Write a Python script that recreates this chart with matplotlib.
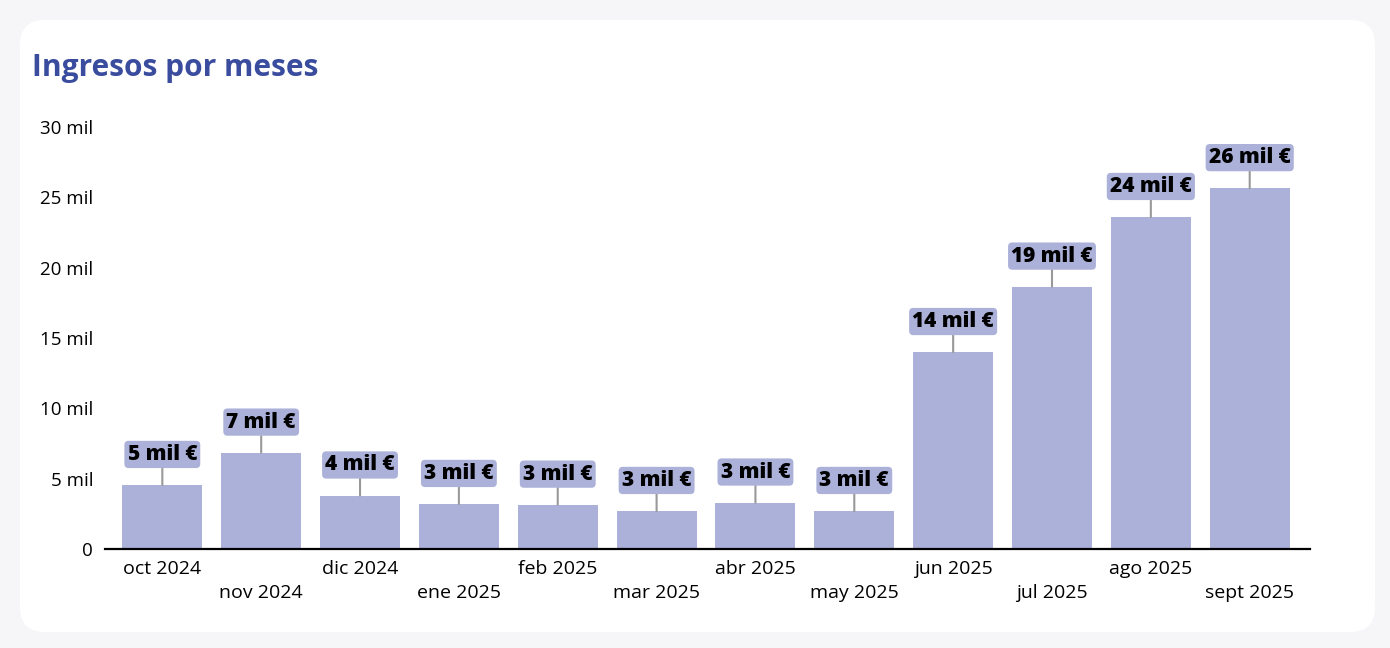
import matplotlib.pyplot as plt
from matplotlib.patches import FancyBboxPatch
from matplotlib.transforms import offset_copy

# datos
meses = ['oct 2024', 'nov 2024', 'dic 2024', 'ene 2025', 'feb 2025', 'mar 2025',
         'abr 2025', 'may 2025', 'jun 2025', 'jul 2025', 'ago 2025', 'sept 2025']
ingresos = [4.55, 6.85, 3.8, 3.2, 3.15, 2.7, 3.3, 2.7, 14.0, 18.65, 23.6, 25.65]  # miles de €
etiquetas = ['5 mil €', '7 mil €', '4 mil €', '3 mil €', '3 mil €', '3 mil €',
             '3 mil €', '3 mil €', '14 mil €', '19 mil €', '24 mil €', '26 mil €']
yticks = [0, 5, 10, 15, 20, 25, 30]
ylabels = ['0', '5 mil', '10 mil', '15 mil', '20 mil', '25 mil', '30 mil']

plt.rcParams['font.family'] = ['Open Sans', 'DejaVu Sans']

W, H = 1390, 648
fig = plt.figure(figsize=(W / 100, H / 100), dpi=100, facecolor='#f6f6f9')

# tarjeta blanca
card = FancyBboxPatch((20 / W, 16 / H), 1355 / W, 612 / H,
                      boxstyle='round,pad=0,rounding_size=0.018',
                      transform=fig.transFigure, facecolor='white',
                      edgecolor='none', zorder=-5, mutation_aspect=W / H)
fig.patches.append(card)

fig.text(32 / W, 1 - 68 / H, 'Ingresos por meses', fontsize=21.5, fontweight='bold',
         color='#3a4c9e', va='center', ha='left')

ax = fig.add_axes([105 / W, 99 / H, 1205 / W, 422 / H])
ax.set_facecolor('none')
x = list(range(len(meses)))
ax.bar(x, ingresos, width=0.81, color='#abb1d9', zorder=2)

ax.set_xlim(-0.58, 11.61)
ax.set_ylim(0, 30)
for s in ['top', 'right', 'left']:
    ax.spines[s].set_visible(False)
ax.spines['bottom'].set_linewidth(1.6)
ax.spines['bottom'].set_color('black')
ax.spines['bottom'].set_zorder(3)

ax.set_yticks(yticks)
ax.set_yticklabels(ylabels, fontsize=13.5)
ax.tick_params(axis='y', length=0, pad=8.5)
ax.set_xticks([])

# etiquetas de meses escalonadas
for i, m in enumerate(meses):
    dy = -20 if i % 2 == 0 else -44
    tr = offset_copy(ax.transData, fig=fig, y=dy, units='dots')
    ax.text(i, 0, m, transform=tr, ha='center', va='center', fontsize=14)

# etiquetas de valor
for i, (v, t) in enumerate(zip(ingresos, etiquetas)):
    ax.annotate(t, xy=(i, v), xytext=(0, 22), textcoords='offset points',
                ha='center', va='center', fontsize=15, fontweight='heavy',
                color='black', annotation_clip=False,
                bbox=dict(boxstyle='round,pad=0.15,rounding_size=0.2',
                          fc='#abb1d9', ec='none'),
                arrowprops=dict(arrowstyle='-', color='#999999', lw=1.5,
                                shrinkA=0, shrinkB=0),
                zorder=4)

fig.savefig('out.png', dpi=100, facecolor=fig.get_facecolor())
